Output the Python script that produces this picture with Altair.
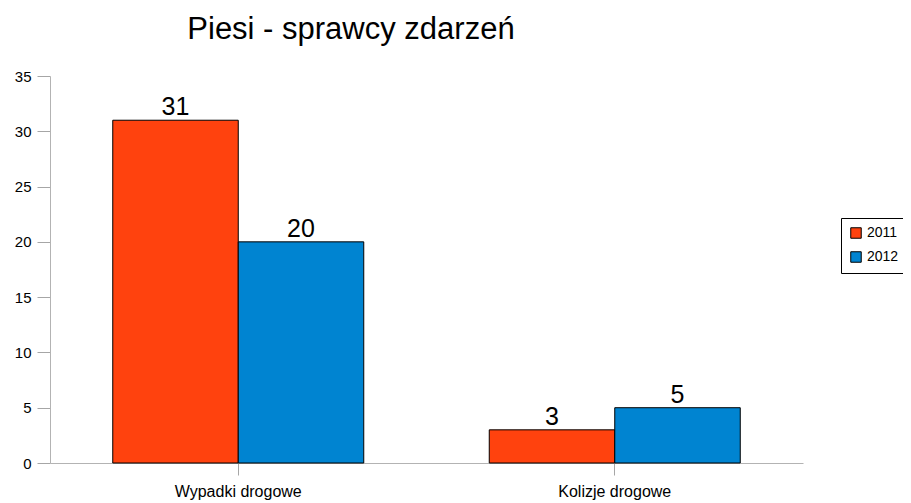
import altair as alt
import pandas as pd

categories = ["Wypadki drogowe", "Kolizje drogowe"]
years = ["2011", "2012"]
values_2011 = [31, 3]
values_2012 = [20, 5]

rows = []
for i, c in enumerate(categories):
    rows.append({"kategoria": c, "rok": years[0], "liczba": values_2011[i]})
    rows.append({"kategoria": c, "rok": years[1], "liczba": values_2012[i]})
df = pd.DataFrame(rows)

FONT = "Liberation Sans"

x = alt.X("kategoria:N", sort=categories, title=None,
          scale=alt.Scale(paddingInner=1/3, paddingOuter=1/6),
          axis=alt.Axis(labelAngle=0, labelFontSize=16, labelFont=FONT, labelColor="#000000",
                        domainColor="#b3b3b3", ticks=True, tickColor="#a6a6a6", tickWidth=1,
                        tickOpacity=1, tickSize=12, labelPadding=8, grid=False))
xo = alt.XOffset("rok:N", sort=years, scale=alt.Scale(paddingInner=0, paddingOuter=0))
y = alt.Y("liczba:Q", title=None,
          scale=alt.Scale(domain=[0, 35], nice=False),
          axis=alt.Axis(values=[0, 5, 10, 15, 20, 25, 30, 35], labelFontSize=15, labelFont=FONT,
                        labelColor="#000000", domainColor="#b3b3b3", ticks=True,
                        tickColor="#a6a6a6", tickWidth=1, tickOpacity=1,
                        tickSize=13, labelPadding=6, grid=False))

color = alt.Color("rok:N", sort=years,
                  scale=alt.Scale(domain=years, range=["#ff420e", "#0084d1"]),
                  legend=alt.Legend(title=None, orient="none", legendX=791, legendY=142,
                                    symbolType="square", symbolSize=110, symbolStrokeColor="#000000",
                                    symbolStrokeWidth=1, labelFontSize=14, labelFont=FONT,
                                    labelColor="#000000", strokeColor="#000000", padding=8,
                                    rowPadding=8, labelOffset=4, fillColor="#ffffff"))

bars = alt.Chart(df).mark_bar(stroke="#000000", strokeWidth=1).encode(
    x=x, xOffset=xo, y=y, color=color
)
labels = alt.Chart(df).mark_text(baseline="alphabetic", dy=-5, fontSize=25, font=FONT,
                                 color="#000000").encode(
    x=x, xOffset=xo, y=y, text="liczba:Q"
)

chart = alt.layer(bars, labels).properties(
    width=753, height=387,
    background="#ffffff",
    title=alt.TitleParams("Piesi - sprawcy zdarzeń", anchor="start", dx=173, fontSize=31,
                          font=FONT, fontWeight="normal", color="#000000", offset=0,
                          baseline="alphabetic", dy=1),
    autosize=alt.AutoSizeParams(type="none"),
    padding={"left": 42, "top": 68, "right": 100, "bottom": 40},
).configure_view(stroke=None, strokeWidth=0)

chart.save("out.html", embed_options={"renderer": "svg", "actions": False})
